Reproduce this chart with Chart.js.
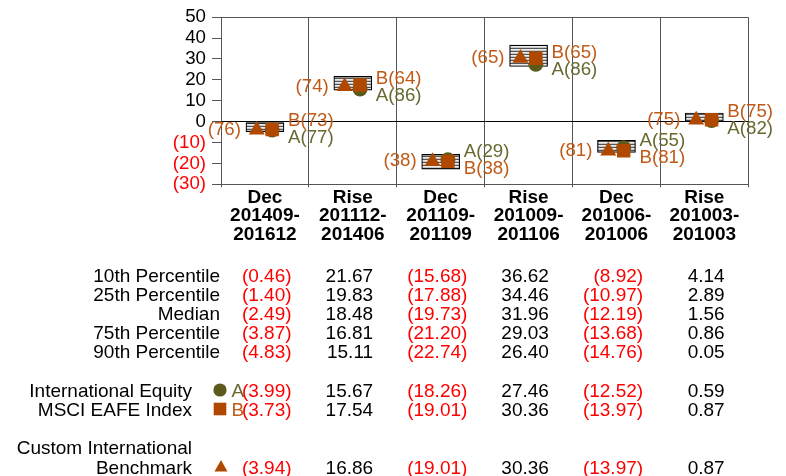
<!DOCTYPE html>
<html>
<head>
<meta charset="utf-8">
<script src="https://cdn.jsdelivr.net/npm/chart.js@4/dist/chart.umd.min.js"></script>
<style>
  html, body { margin: 0; padding: 0; background: #fff; }
  #wrap { position: relative; width: 786px; height: 476px; overflow: hidden;
          font-family: "Liberation Sans", Arial, sans-serif; }
  #c { position: absolute; left: 0; top: 0; }
  .cell { position: absolute; font-size: 19px; line-height: 1; white-space: nowrap;
          transform: translateY(-50%); color: #000; }
  .neg { color: #ff0000; }
  .hang { position: absolute; left: 100%; top: 0; }
  .mk { position: absolute; }
</style>
</head>
<body>
<div id="wrap"><canvas id="c" width="786" height="476"></canvas></div>
<script>
// Market periods (three-line category labels)
const categories = [
  ["Dec", "201409-", "201612"],
  ["Rise", "201112-", "201406"],
  ["Dec", "201109-", "201109"],
  ["Rise", "201009-", "201106"],
  ["Dec", "201006-", "201006"],
  ["Rise", "201003-", "201003"]
];

// Universe percentiles (%)
const p10    = [-0.46, 21.67, -15.68, 36.62,  -8.92, 4.14];
const p25    = [-1.40, 19.83, -17.88, 34.46, -10.97, 2.89];
const median = [-2.49, 18.48, -19.73, 31.96, -12.19, 1.56];
const p75    = [-3.87, 16.81, -21.20, 29.03, -13.68, 0.86];
const p90    = [-4.83, 15.11, -22.74, 26.40, -14.76, 0.05];

// Portfolio, index and benchmark returns with percentile ranks
const intlEquity      = [-3.99, 15.67, -18.26, 27.46, -12.52, 0.59];
const intlEquityRank  = [77, 86, 29, 86, 55, 82];
const msciEafe        = [-3.73, 17.54, -19.01, 30.36, -13.97, 0.87];
const msciEafeRank    = [73, 64, 38, 65, 81, 75];
const customBench     = [-3.94, 16.86, -19.01, 30.36, -13.97, 0.87];
const customBenchRank = [76, 74, 38, 65, 81, 75];

// Value axis ticks
const yTicks = [-30, -20, -10, 0, 10, 20, 30, 40, 50];

const rowLabels = ["10th Percentile", "25th Percentile", "Median", "75th Percentile", "90th Percentile"];
const pctRows = [p10, p25, median, p75, p90];

const FONT = '"Liberation Sans", Arial, sans-serif';
const OLIVE = '#5b5a1c';
const OLIVE_TXT = '#686830';
const RUST = '#b04800';
const RUST_TXT = '#bf5a17';

// Horizontal-line fill for the percentile boxes
function stripePattern() {
  const pc = document.createElement('canvas');
  pc.width = 4; pc.height = 3;
  const g = pc.getContext('2d');
  g.fillStyle = '#ebebeb'; g.fillRect(0, 0, 4, 3);
  g.fillStyle = '#555555'; g.fillRect(0, 0, 4, 1);
  g.fillStyle = '#c8c8c8'; g.fillRect(0, 2, 4, 1);
  return g.createPattern(pc, 'repeat');
}

const DX_TRI = -0.093, DX_PAIR = 0.082;

const rankLabels = {
  id: 'rankLabels',
  afterDatasetsDraw(chart) {
    const { ctx, scales: { x, y } } = chart;
    const bars = chart.getDatasetMeta(0).data;
    ctx.save();
    ctx.font = '18.7px ' + FONT;
    ctx.textBaseline = 'middle';
    categories.forEach((_, i) => {
      const cx = x.getPixelForValue(i);
      const half = bars[i].width / 2;
      ctx.textAlign = 'right';
      ctx.fillStyle = RUST_TXT;
      ctx.fillText('(' + customBenchRank[i] + ')', cx - half - 5, y.getPixelForValue(customBench[i]));
      const ya = y.getPixelForValue(intlEquity[i]);
      const yb = y.getPixelForValue(msciEafe[i]);
      const mid = (ya + yb) / 2;
      const aAbove = intlEquity[i] > msciEafe[i];
      ctx.textAlign = 'left';
      ctx.fillStyle = OLIVE_TXT;
      ctx.fillText('A(' + intlEquityRank[i] + ')', cx + half + 4, aAbove ? mid - 8.6 : mid + 8.6);
      ctx.fillStyle = RUST_TXT;
      ctx.fillText('B(' + msciEafeRank[i] + ')', cx + half + 4, aAbove ? mid + 8.6 : mid - 8.6);
    });
    ctx.restore();
  }
};

const chart = new Chart(document.getElementById('c'), {
  type: 'bar',
  data: {
    labels: categories,
    datasets: [
      {
        label: 'Percentile range',
        data: p10.map((v, i) => [p90[i], v]),
        backgroundColor: stripePattern(),
        borderColor: '#000',
        borderWidth: 1.2,
        borderSkipped: false,
        barThickness: 38,
        grouped: false,
        xAxisID: 'x',
        order: 4
      },
      {
        type: 'scatter',
        label: 'International Equity',
        data: intlEquity.map((v, i) => ({ x: i + DX_PAIR, y: v })),
        pointStyle: 'circle', pointRadius: 7.5,
        backgroundColor: OLIVE, borderWidth: 0,
        xAxisID: 'xm', order: 3
      },
      {
        type: 'scatter',
        label: 'MSCI EAFE Index',
        data: msciEafe.map((v, i) => ({ x: i + DX_PAIR, y: v })),
        pointStyle: 'rect', pointRadius: 9.5,
        backgroundColor: RUST, borderWidth: 0,
        xAxisID: 'xm', order: 2
      },
      {
        type: 'scatter',
        label: 'Custom International Benchmark',
        data: customBench.map((v, i) => ({ x: i + DX_TRI, y: v })),
        pointStyle: 'triangle', pointRadius: 9.2,
        backgroundColor: RUST, borderWidth: 0,
        xAxisID: 'xm', order: 1
      }
    ]
  },
  options: {
    responsive: false,
    animation: false,
    devicePixelRatio: 1,
    layout: { padding: { top: 16, right: 37.7, left: 0, bottom: 0 } },
    plugins: { legend: { display: false }, tooltip: { enabled: false } },
    events: [],
    scales: {
      x: {
        type: 'category',
        offset: true,
        grid: { offset: true, color: '#555', lineWidth: 1, tickLength: 3, tickColor: '#555' },
        border: { color: '#555' },
        ticks: {
          autoSkip: false, maxRotation: 0, padding: 1, color: '#000',
          font: { family: FONT, size: 19, weight: 'bold', lineHeight: 0.98 }
        },
        afterFit: s => { s.height = 291.7; }
      },
      xm: {
        type: 'linear', min: -0.5, max: 5.5, display: false,
        offset: false, grid: { offset: false }
      },
      y: {
        min: -30, max: 50,
        afterBuildTicks: s => { s.ticks = yTicks.map(v => ({ value: v })); },
        ticks: {
          autoSkip: false,
          padding: 6,
          font: { family: FONT, size: 18.7 },
          color: c => c.tick.value < 0 ? '#ff0000' : '#000',
          callback: v => v < 0 ? '(' + (-v) + ')' : String(v)
        },
        grid: {
          color: c => c.tick.value === 0 ? '#000' : (c.tick.value === 50 ? '#555' : 'rgba(0,0,0,0)'),
          tickColor: '#555', tickLength: 9, lineWidth: 1
        },
        border: { color: '#555' },
        afterFit: s => { s.width = 221; }
      }
    }
  },
  plugins: [rankLabels]
});

// Summary table under the chart, columns aligned to the category centres
(function buildTable() {
  const wrap = document.getElementById('wrap');
  const xs = chart.scales.x;
  const W = 786;

  function text(str, rightEdge, cy, cls) {
    const d = document.createElement('div');
    d.className = 'cell' + (cls ? ' ' + cls : '');
    d.style.right = (W - rightEdge) + 'px';
    d.style.top = cy + 'px';
    d.textContent = str;
    wrap.appendChild(d);
    return d;
  }
  function leftText(str, left, cy, color) {
    const d = document.createElement('div');
    d.className = 'cell';
    d.style.left = left + 'px';
    d.style.top = cy + 'px';
    d.style.color = color;
    d.textContent = str;
    wrap.appendChild(d);
  }
  function value(v, i, cy) {
    const edge = xs.getPixelForValue(i) + 20.3;
    if (v < 0) {
      const d = text('(' + (-v).toFixed(2), edge, cy, 'neg');
      const h = document.createElement('span');
      h.className = 'hang';
      h.textContent = ')';
      d.appendChild(h);
    } else {
      text(v.toFixed(2), edge, cy);
    }
  }
  function valueRow(arr, cy) { arr.forEach((v, i) => value(v, i, cy)); }
  function marker(svgInner, cx, cy) {
    const s = document.createElementNS('http://www.w3.org/2000/svg', 'svg');
    s.setAttribute('width', 16); s.setAttribute('height', 16);
    s.setAttribute('class', 'mk');
    s.style.left = (cx - 8) + 'px';
    s.style.top = (cy - 8) + 'px';
    s.innerHTML = svgInner;
    wrap.appendChild(s);
  }

  pctRows.forEach((arr, r) => {
    const cy = 275 + r * 19.1;
    text(rowLabels[r], 220, cy);
    valueRow(arr, cy);
  });

  text('International Equity', 192, 390);
  marker('<circle cx="8" cy="8" r="6.6" fill="' + OLIVE + '"/>', 220, 390);
  leftText('A', 231.5, 390, OLIVE_TXT);
  valueRow(intlEquity, 390);

  text('MSCI EAFE Index', 192, 409);
  marker('<rect x="1.7" y="1.7" width="12.6" height="12.6" fill="' + RUST + '"/>', 220, 409);
  leftText('B', 231.5, 409, RUST_TXT);
  valueRow(msciEafe, 409);

  text('Custom International', 192, 447);
  text('Benchmark', 192, 467);
  marker('<polygon points="8,2 14.5,13.5 1.5,13.5" fill="' + RUST + '"/>', 221, 466);
  valueRow(customBench, 467);
})();
</script>
</body>
</html>
